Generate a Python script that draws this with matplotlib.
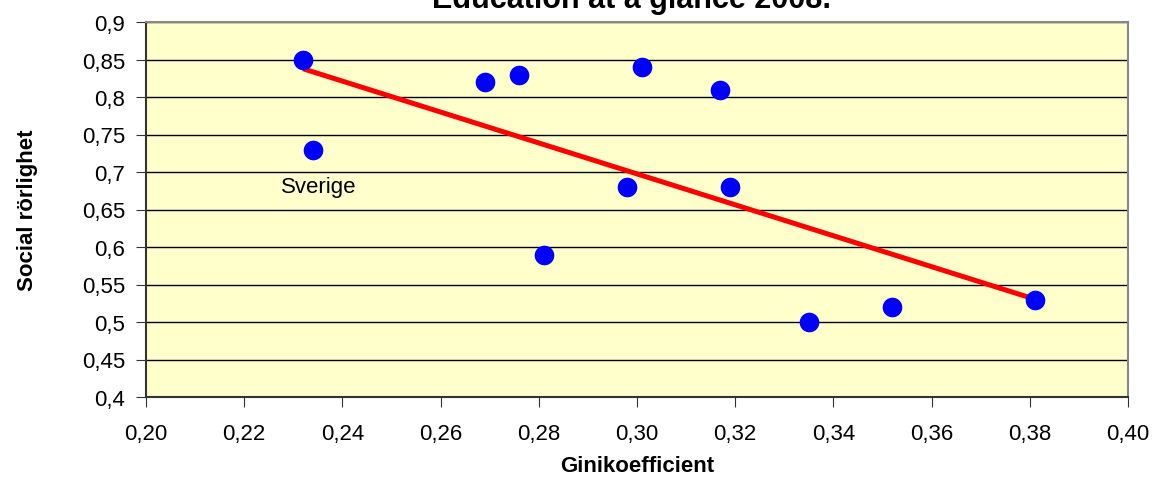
import numpy as np
import matplotlib
matplotlib.use("Agg")
import matplotlib.pyplot as plt
from matplotlib.ticker import FuncFormatter

plt.rcParams['font.family'] = ['Liberation Sans', 'DejaVu Sans']

# Data: Gini coefficient vs social mobility
gini = [0.232, 0.234, 0.269, 0.276, 0.281, 0.298, 0.301, 0.317, 0.319, 0.335, 0.352, 0.381]
rorlighet = [0.85, 0.73, 0.82, 0.83, 0.59, 0.68, 0.84, 0.81, 0.68, 0.50, 0.52, 0.53]
x_ticks = [0.20, 0.22, 0.24, 0.26, 0.28, 0.30, 0.32, 0.34, 0.36, 0.38, 0.40]
y_ticks = [0.4, 0.45, 0.5, 0.55, 0.6, 0.65, 0.7, 0.75, 0.8, 0.85, 0.9]

fig = plt.figure(figsize=(11.55, 4.89), dpi=100)
ax = fig.add_axes([146 / 1155, 1 - 398 / 489, (1128 - 146) / 1155, (398 - 23) / 489])
ax.set_facecolor('#FFFFCC')

ax.scatter(gini, rorlighet, s=200, color='#0000FF', zorder=3, linewidths=0)

# linear trend line
k, m = np.polyfit(gini, rorlighet, 1)
xs = np.array([min(gini), max(gini)])
ax.plot(xs, k * xs + m, color='#FF0000', linewidth=3.6, zorder=2, solid_capstyle='butt')

ax.text(0.2275, 0.68, 'Sverige', fontsize=16, va='center', ha='left')

ax.set_xlim(0.20, 0.40)
ax.set_ylim(0.4, 0.9)
ax.set_xticks(x_ticks)
ax.set_yticks(y_ticks)
ax.xaxis.set_major_formatter(FuncFormatter(lambda v, p: f'{v:.2f}'.replace('.', ',')))
ax.yaxis.set_major_formatter(FuncFormatter(lambda v, p: f'{v:g}'.replace('.', ',')))
ax.tick_params(axis='both', labelsize=16, length=7, direction='out', color='#333333')
ax.tick_params(axis='x', pad=12)
ax.tick_params(axis='y', pad=8)
ax.grid(axis='y', color='black', linewidth=1)
ax.set_axisbelow(True)

for side in ['top', 'right']:
    ax.spines[side].set_color('#888888')
    ax.spines[side].set_linewidth(1.5)
for side in ['left', 'bottom']:
    ax.spines[side].set_color('#333333')
    ax.spines[side].set_linewidth(1.5)

ax.set_xlabel('Ginikoefficient', fontsize=16, fontweight='bold', va='center')
ax.set_ylabel('Social rörlighet', fontsize=16, fontweight='bold', va='center')
ax.xaxis.set_label_coords(0.5, (398 - 467) / 375)
ax.yaxis.set_label_coords((28 - 146) / 982, 0.5)

fig.text(0.547, 1 - 8 / 489, 'Education at a glance 2008.', fontsize=22, fontweight='bold',
         ha='center', va='baseline')

fig.savefig('out.png', dpi=100)
